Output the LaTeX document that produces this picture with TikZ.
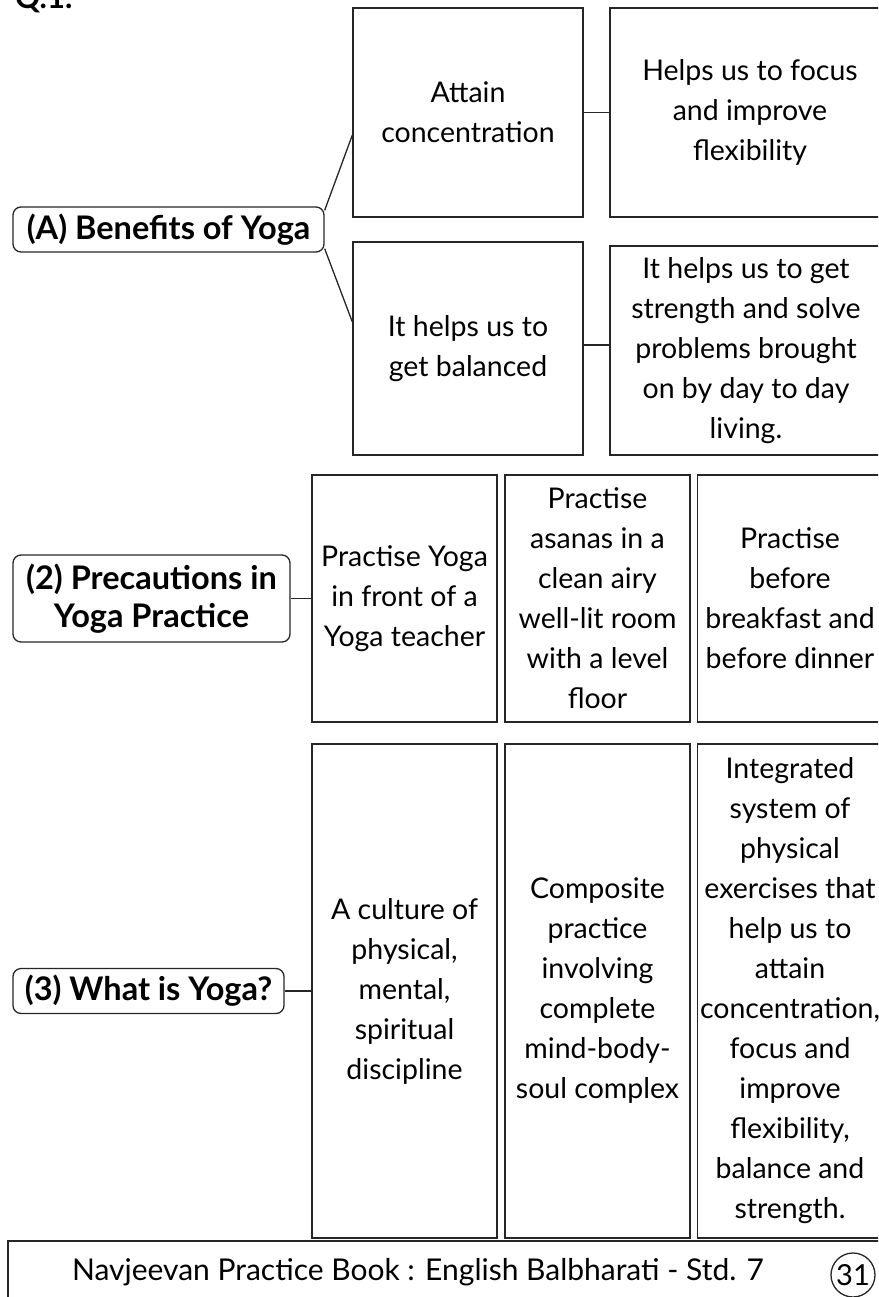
\documentclass[tikz,border=0pt]{standalone}
\usepackage{fontspec}
\setmainfont{Lato}

\begin{document}
\begin{tikzpicture}
[
    x=1pt, y=-1pt,
    box/.style={draw=black!85, line width=1.3pt, align=center, inner sep=0pt, font=\fontsize{28.5}{40}\selectfont},
    head/.style={draw=black!85, line width=1.3pt, rounded corners=8pt, align=center, inner sep=0pt, font=\fontsize{32.5}{38}\selectfont\bfseries},
    link/.style={draw=black!85, line width=1.3pt},
]
\useasboundingbox (0,0) rectangle (878,1297);
\clip (0,0) rectangle (878,1297);
\node [anchor=base west, inner sep=0pt, font=\fontsize{31}{34}\selectfont\bfseries] (q) at (15,9) {Q.1.};

\node [head, minimum width=311pt, minimum height=45pt] (ben) at (168.5,229.5) {(A) Benefits of Yoga};
\node [box, minimum width=230pt, minimum height=209pt] (att) at (468,112.5) {Attain\\concentration};
\node [box, minimum width=280pt, minimum height=209pt] (foc) at (750,112.5) {Helps us to focus\\and improve\\flexibility};
\node [box, minimum width=230pt, minimum height=213pt] (bal) at (468,348.5) {It helps us to\\get balanced};
\node [box, minimum width=272pt, minimum height=209pt] (str) at (746,350.5) {It helps us to get\\strength and solve\\problems brought\\on by day to day\\living.};
\draw [link] ([yshift=-4pt]ben.north east) -- ([yshift=-22.5pt]att.west);
\draw [link] ([yshift=4pt]ben.south east) -- ([yshift=26.5pt]bal.west);
\draw [link] (att.east) -- (foc.west);
\draw [link] ([yshift=3.5pt]bal.east) -- ([yshift=3.5pt]bal.east -| str.west);

\node [head, minimum width=277pt, minimum height=87pt] (pre) at (151.5,598.5) {(2) Precautions in\\Yoga Practice};
\node [box, minimum width=185pt, minimum height=247pt] (pr1) at (404.5,598.5) {Practise Yoga\\in front of a\\Yoga teacher};
\node [box, minimum width=185pt, minimum height=247pt] (pr2) at (597.5,598.5) {Practise\\asanas in a\\clean airy\\well-lit room\\with a level\\floor};
\node [box, minimum width=185pt, minimum height=247pt] (pr3) at (790,598.5) {Practise\\before\\breakfast and\\before dinner};
\draw [link] (pre.east) -- (pr1.west);

\node [head, minimum width=271pt, minimum height=45pt] (wha) at (148.5,991) {(3) What is Yoga?};
\node [box, minimum width=185pt, minimum height=494pt] (wh1) at (404.5,991) {A culture of\\physical,\\mental,\\spiritual\\discipline};
\node [box, minimum width=185pt, minimum height=494pt] (wh2) at (597.5,991) {Composite\\practice\\involving\\complete\\mind-body-\\soul complex};
\node [box, minimum width=185pt, minimum height=494pt] (wh3) at (790,991) {Integrated\\system of\\physical\\exercises that\\help us to\\attain\\concentration,\\focus and\\improve\\flexibility,\\balance and\\strength.};
\draw [link] (wha.east) -- (wh1.west);

\draw [link] (8,1320) |- (900,1241);
\node [font=\fontsize{30}{34}\selectfont] (ftxt) at (418,1272) {Navjeevan Practice Book : English Balbharati - Std. 7};
\node [draw=black!85, line width=1.3pt, circle, minimum size=44pt, inner sep=0pt, font=\fontsize{29}{32}\selectfont] (pg) at (853,1275) {31};
\end{tikzpicture}
\end{document}
